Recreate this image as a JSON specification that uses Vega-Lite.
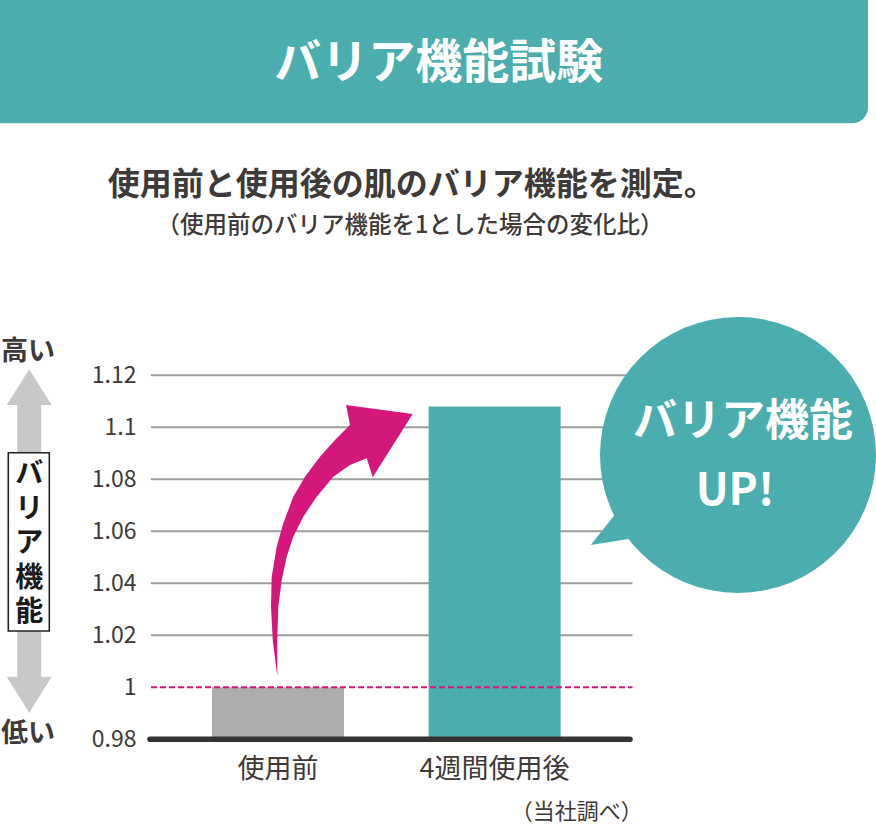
{
  "$schema": "https://vega.github.io/schema/vega-lite/v6.json",
  "width": 876,
  "height": 830,
  "padding": 0,
  "autosize": {"type": "none"},
  "background": "white",
  "config": {"view": {"stroke": null}, "font": "Noto Sans CJK JP", "text": {"font": "Noto Sans CJK JP"}},
  "resolve": {"scale": {"x": "independent", "y": "independent"}},
  "layer": [
    {
      "data": {"values": [{"目盛": 1.02}, {"目盛": 1.04}, {"目盛": 1.06}, {"目盛": 1.08}, {"目盛": 1.1}, {"目盛": 1.12}]},
      "mark": {"type": "rule", "color": "#9c9c9c", "strokeWidth": 2},
      "encoding": {
        "y": {"field": "目盛", "type": "quantitative", "scale": {"domain": [0.945115, 1.264346], "nice": false, "zero": false}, "axis": null},
        "x": {"datum": 17.24, "type": "quantitative", "scale": {"domain": [0, 100], "nice": false, "zero": false}, "axis": null},
        "x2": {"datum": 72.2}
      }
    },
    {
      "data": {"values": [{"条件": "使用前", "バリア機能": 1.0}, {"条件": "4週間使用後", "バリア機能": 1.108}]},
      "mark": {"type": "bar"},
      "encoding": {
        "x": {
          "field": "条件", "type": "nominal", "sort": ["使用前", "4週間使用後"],
          "scale": {"range": [151, 632.5], "paddingInner": 0.3906, "paddingOuter": 0.3068, "align": 0.459},
          "axis": {"orient": "bottom", "offset": -90.7, "title": null, "domain": false, "ticks": false, "tickSize": 0, "labelPadding": 30, "labelBaseline": "middle", "labelFontSize": 27, "labelColor": "#3e3a39", "labelAngle": 0, "labelFont": "Noto Sans CJK JP", "labelLimit": 0}
        },
        "y": {
          "field": "バリア機能", "type": "quantitative",
          "scale": {"domain": [0.945115, 1.264346], "nice": false, "zero": false},
          "axis": {"orient": "left", "offset": -136, "title": null, "domain": false, "ticks": false, "tickSize": 0, "grid": false, "labelPadding": 0, "values": [0.98, 1, 1.02, 1.04, 1.06, 1.08, 1.1, 1.12], "labelExpr": "'' + datum.value", "labelFontSize": 23, "labelColor": "#3e3a39", "labelFont": "Noto Sans CJK JP", "labelFlush": false, "labelOverlap": false}
        },
        "y2": {"datum": 0.98},
        "color": {"field": "条件", "type": "nominal", "scale": {"domain": ["使用前", "4週間使用後"], "range": ["#adadad", "#4badad"]}, "legend": null}
      }
    },
    {
      "data": {"values": [{}]},
      "mark": {"type": "rule", "color": "#d4177a", "strokeWidth": 2, "strokeDash": [6, 3]},
      "encoding": {
        "y": {"datum": 1, "type": "quantitative", "scale": {"domain": [0.945115, 1.264346], "nice": false, "zero": false}, "axis": null},
        "x": {"datum": 17.24, "type": "quantitative", "scale": {"domain": [0, 100], "nice": false, "zero": false}, "axis": null},
        "x2": {"datum": 72.2}
      }
    },
    {
      "data": {"values": [{}]},
      "mark": {"type": "rule", "color": "#333333", "strokeWidth": 5.5, "strokeCap": "round"},
      "encoding": {
        "y": {"datum": 0.98, "type": "quantitative", "scale": {"domain": [0.945115, 1.264346], "nice": false, "zero": false}, "axis": null},
        "x": {"datum": 17.12, "type": "quantitative", "scale": {"domain": [0, 100], "nice": false, "zero": false}, "axis": null},
        "x2": {"datum": 71.92}
      }
    },
    {
      "data": {"values": [{}]},
      "layer": [
        {
          "mark": {"type": "rect", "color": "#4badad", "cornerRadiusBottomRight": 16},
          "encoding": {
            "x": {"datum": 0, "type": "quantitative", "scale": {"domain": [0, 100], "nice": false, "zero": false}, "axis": null},
            "x2": {"datum": 99.09},
            "y": {"datum": 100, "type": "quantitative", "scale": {"domain": [0, 100], "nice": false, "zero": false}, "axis": null},
            "y2": {"datum": 85.145}
          }
        },
        {
          "mark": {"type": "text", "text": "バリア機能試験", "color": "white", "fontSize": 47, "fontWeight": "bold", "align": "center", "baseline": "middle"},
          "encoding": {
            "x": {"datum": 50.08, "type": "quantitative", "scale": {"domain": [0, 100], "nice": false, "zero": false}, "axis": null},
            "y": {"datum": 92.23, "type": "quantitative", "scale": {"domain": [0, 100], "nice": false, "zero": false}, "axis": null}
          }
        },
        {
          "mark": {"type": "text", "text": "使用前と使用後の肌のバリア機能を測定。", "color": "#3e3a39", "fontSize": 32, "fontWeight": "bold", "align": "center", "baseline": "middle"},
          "encoding": {
            "x": {"datum": 47.0, "type": "quantitative", "scale": {"domain": [0, 100], "nice": false, "zero": false}, "axis": null},
            "y": {"datum": 77.71, "type": "quantitative", "scale": {"domain": [0, 100], "nice": false, "zero": false}, "axis": null}
          }
        },
        {
          "mark": {"type": "text", "text": "（使用前のバリア機能を1とした場合の変化比）", "color": "#3e3a39", "fontSize": 23.5, "fontWeight": 500, "align": "center", "baseline": "middle"},
          "encoding": {
            "x": {"datum": 46.8, "type": "quantitative", "scale": {"domain": [0, 100], "nice": false, "zero": false}, "axis": null},
            "y": {"datum": 72.77, "type": "quantitative", "scale": {"domain": [0, 100], "nice": false, "zero": false}, "axis": null}
          }
        },
        {
          "mark": {"type": "text", "text": "（当社調べ）", "color": "#3e3a39", "fontSize": 22, "align": "center", "baseline": "middle"},
          "encoding": {
            "x": {"datum": 65.85, "type": "quantitative", "scale": {"domain": [0, 100], "nice": false, "zero": false}, "axis": null},
            "y": {"datum": 2.17, "type": "quantitative", "scale": {"domain": [0, 100], "nice": false, "zero": false}, "axis": null}
          }
        },
        {
          "mark": {"type": "point", "shape": "M0,-171.7 L22.5,-136 L12,-136 L12,135.7 L22.5,135.7 L0,171.7 L-22.5,135.7 L-12,135.7 L-12,-136 L-22.5,-136 Z", "size": 4, "filled": true, "fill": "#c8c8c8", "opacity": 1, "strokeWidth": 0},
          "encoding": {
            "x": {"datum": 3.333, "type": "quantitative", "scale": {"domain": [0, 100], "nice": false, "zero": false}, "axis": null},
            "y": {"datum": 34.82, "type": "quantitative", "scale": {"domain": [0, 100], "nice": false, "zero": false}, "axis": null}
          }
        },
        {
          "mark": {"type": "rect", "fill": "white", "stroke": "#222222", "strokeWidth": 1.6},
          "encoding": {
            "x": {"datum": 0.9475, "type": "quantitative", "scale": {"domain": [0, 100], "nice": false, "zero": false}, "axis": null},
            "x2": {"datum": 5.628},
            "y": {"datum": 45.46, "type": "quantitative", "scale": {"domain": [0, 100], "nice": false, "zero": false}, "axis": null},
            "y2": {"datum": 23.98}
          }
        },
        {
          "mark": {"type": "text", "text": ["バ", "リ", "ア", "機", "能"], "lineHeight": 34.5, "color": "#1a1a1a", "fontSize": 28, "fontWeight": "bold", "align": "center", "baseline": "middle"},
          "encoding": {
            "x": {"datum": 3.333, "type": "quantitative", "scale": {"domain": [0, 100], "nice": false, "zero": false}, "axis": null},
            "y": {"datum": 42.77, "type": "quantitative", "scale": {"domain": [0, 100], "nice": false, "zero": false}, "axis": null}
          }
        },
        {
          "mark": {"type": "text", "text": "高い", "color": "#3e3a39", "fontSize": 27, "fontWeight": "bold", "align": "center", "baseline": "middle"},
          "encoding": {
            "x": {"datum": 3.196, "type": "quantitative", "scale": {"domain": [0, 100], "nice": false, "zero": false}, "axis": null},
            "y": {"datum": 57.65, "type": "quantitative", "scale": {"domain": [0, 100], "nice": false, "zero": false}, "axis": null}
          }
        },
        {
          "mark": {"type": "text", "text": "低い", "color": "#3e3a39", "fontSize": 27, "fontWeight": "bold", "align": "center", "baseline": "middle"},
          "encoding": {
            "x": {"datum": 3.196, "type": "quantitative", "scale": {"domain": [0, 100], "nice": false, "zero": false}, "axis": null},
            "y": {"datum": 11.57, "type": "quantitative", "scale": {"domain": [0, 100], "nice": false, "zero": false}, "axis": null}
          }
        },
        {
          "mark": {"type": "point", "shape": "M0,0 L-4.5,-35 L-6.3,-69.3 L-5.6,-99.3 L-0.6,-129.3 L6,-152.7 L16,-179.3 L27.7,-199.3 L42.7,-219.3 L57.7,-236 L72.7,-251 L68.7,-271 L135.4,-262 L95.4,-198.7 L89.4,-217.7 L72.7,-211 L56,-199.3 L39.4,-179.3 L26,-159.3 L16,-139.3 L9.4,-119.3 L4.4,-96 L1,-69.3 L0,-36 Z", "size": 4, "filled": true, "fill": "#d4177a", "opacity": 1, "strokeWidth": 0},
          "encoding": {
            "x": {"datum": 31.655, "type": "quantitative", "scale": {"domain": [0, 100], "nice": false, "zero": false}, "axis": null},
            "y": {"datum": 18.554, "type": "quantitative", "scale": {"domain": [0, 100], "nice": false, "zero": false}, "axis": null}
          }
        },
        {
          "mark": {"type": "point", "shape": "circle", "size": 76176, "filled": true, "fill": "#4badad", "opacity": 1, "strokeWidth": 0},
          "encoding": {
            "x": {"datum": 84.247, "type": "quantitative", "scale": {"domain": [0, 100], "nice": false, "zero": false}, "axis": null},
            "y": {"datum": 45.181, "type": "quantitative", "scale": {"domain": [0, 100], "nice": false, "zero": false}, "axis": null}
          }
        },
        {
          "mark": {"type": "point", "shape": "M-147.3,90 L-115.7,50.4 L-100,82.5 Z", "size": 4, "filled": true, "fill": "#4badad", "opacity": 1, "strokeWidth": 0},
          "encoding": {
            "x": {"datum": 84.247, "type": "quantitative", "scale": {"domain": [0, 100], "nice": false, "zero": false}, "axis": null},
            "y": {"datum": 45.181, "type": "quantitative", "scale": {"domain": [0, 100], "nice": false, "zero": false}, "axis": null}
          }
        },
        {
          "mark": {"type": "text", "text": "バリア機能", "color": "white", "fontSize": 44, "fontWeight": "bold", "align": "center", "baseline": "middle"},
          "encoding": {
            "x": {"datum": 84.82, "type": "quantitative", "scale": {"domain": [0, 100], "nice": false, "zero": false}, "axis": null},
            "y": {"datum": 49.04, "type": "quantitative", "scale": {"domain": [0, 100], "nice": false, "zero": false}, "axis": null}
          }
        },
        {
          "mark": {"type": "text", "text": "UP!", "color": "white", "fontSize": 44, "fontWeight": "bold", "align": "center", "baseline": "middle"},
          "encoding": {
            "x": {"datum": 83.9, "type": "quantitative", "scale": {"domain": [0, 100], "nice": false, "zero": false}, "axis": null},
            "y": {"datum": 40.72, "type": "quantitative", "scale": {"domain": [0, 100], "nice": false, "zero": false}, "axis": null}
          }
        }
      ]
    }
  ]
}
